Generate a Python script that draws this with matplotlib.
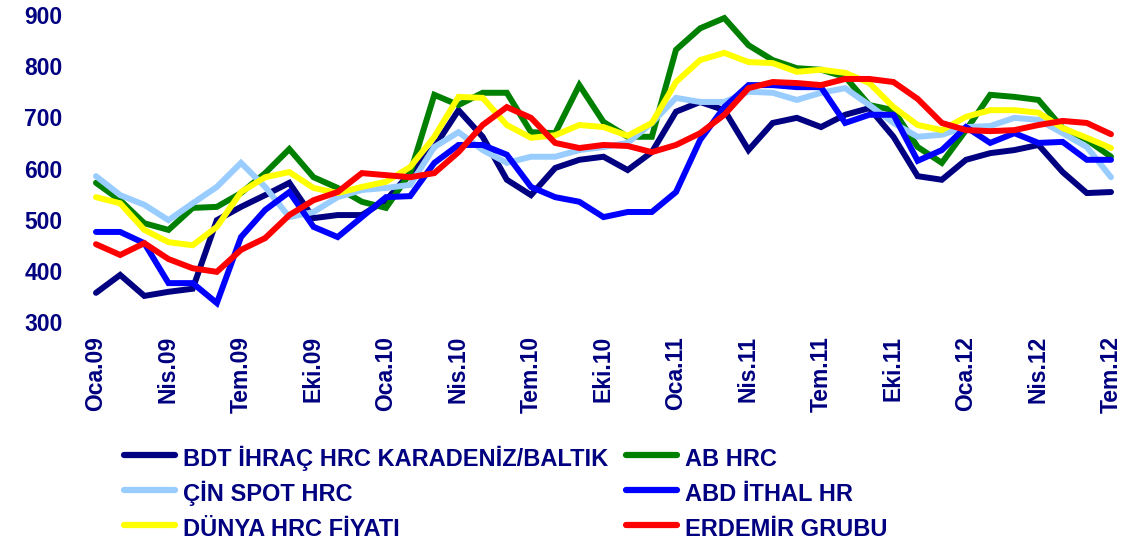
import matplotlib.pyplot as plt

plt.rcParams['font.family'] = ['Liberation Sans', 'DejaVu Sans']

months = list(range(43))
tick_pos = list(range(0, 43, 3))
tick_labels = ['Oca.09', 'Nis.09', 'Tem.09', 'Eki.09', 'Oca.10', 'Nis.10', 'Tem.10',
               'Eki.10', 'Oca.11', 'Nis.11', 'Tem.11', 'Eki.11', 'Oca.12', 'Nis.12', 'Tem.12']

bdt = [357, 392, 351, 359, 365, 499, 525, 548, 572, 503, 509, 509,
       538, 591, 642, 714, 662, 578, 548, 601, 617, 623, 597, 632,
       711, 730, 714, 636, 689, 699, 681, 705, 718, 662, 585, 578,
       617, 630, 636, 646, 593, 552, 554]
ab = [572, 538, 493, 480, 523, 525, 552, 591, 638, 583, 562, 535,
      523, 591, 744, 724, 748, 748, 671, 669, 763, 691, 662, 662,
      832, 874, 894, 841, 812, 796, 793, 779, 724, 714, 642, 611,
      675, 744, 740, 734, 679, 656, 623]
cin = [585, 548, 529, 499, 532, 564, 611, 564, 505, 515, 544, 558,
       562, 568, 642, 671, 636, 611, 623, 623, 636, 642, 650, 689,
       738, 730, 730, 750, 748, 734, 748, 757, 724, 689, 662, 666,
       681, 683, 699, 695, 669, 642, 583]
abd = [476, 476, 454, 376, 376, 337, 466, 519, 554, 486, 466, 505,
       544, 546, 611, 646, 646, 627, 564, 544, 535, 505, 515, 515,
       554, 656, 720, 763, 763, 759, 759, 689, 705, 705, 615, 636,
       681, 650, 669, 650, 652, 617, 617]
dunya = [544, 532, 480, 456, 450, 486, 554, 583, 593, 562, 552, 564,
         574, 603, 662, 740, 738, 685, 660, 665, 685, 681, 664, 689,
         769, 812, 826, 808, 806, 789, 793, 787, 767, 720, 685, 675,
         701, 714, 714, 709, 679, 660, 640]
erdemir = [452, 431, 454, 423, 405, 398, 441, 464, 509, 538, 554, 591,
           587, 583, 591, 632, 685, 720, 699, 650, 640, 646, 644, 632,
           646, 669, 705, 757, 769, 767, 763, 775, 775, 769, 736, 689,
           675, 673, 675, 685, 693, 689, 667]

navy = '#000080'

fig = plt.figure(figsize=(11.21, 5.46), dpi=100)
ax = fig.add_axes([96 / 1121, 1 - 322 / 546, 1015 / 1121, 307 / 546])

lw = 4.3
kw = dict(lw=lw, clip_on=False, solid_capstyle='round', solid_joinstyle='miter')
l1, = ax.plot(months, bdt, color='#000080', label='BDT İHRAÇ HRC KARADENİZ/BALTIK', **kw)
l2, = ax.plot(months, ab, color='#008000', label='AB HRC', **kw)
l3, = ax.plot(months, cin, color='#99CCFF', label='ÇİN SPOT HRC', **kw)
l4, = ax.plot(months, abd, color='#0000FF', label='ABD İTHAL HR', **kw)
l5, = ax.plot(months, dunya, color='#FFFF00', label='DÜNYA HRC FİYATI', **kw)
l6, = ax.plot(months, erdemir, color='#FF0000', label='ERDEMİR GRUBU', **kw)

ax.set_xlim(0, 42)
ax.set_ylim(300, 900)
ax.set_yticks(range(300, 901, 100))
ax.set_xticks(tick_pos)
ax.set_xticklabels(tick_labels, rotation=90)
for s in ax.spines.values():
    s.set_visible(False)
ax.tick_params(axis='both', length=0, labelsize=16.5, labelcolor=navy)
ax.tick_params(axis='x', pad=10)
ax.tick_params(axis='y', pad=24)
for t in ax.get_xticklabels() + ax.get_yticklabels():
    t.set_fontweight('bold')

# legend in two separate columns so each column can be placed exactly
leg_kw = dict(loc='upper left', frameon=False, borderpad=0, borderaxespad=0,
              handlelength=2.15, handletextpad=0.34, handleheight=1.5,
              labelspacing=0.26, prop={'weight': 'bold', 'size': 17})
for handles, x0 in [([l1, l3, l5], 124), ([l2, l4, l6], 626)]:
    leg = fig.legend(handles, [h.get_label() for h in handles],
                     bbox_to_anchor=(x0 / 1121, 1 - 444 / 546), **leg_kw)
    for t in leg.get_texts():
        t.set_color(navy)
    for h in leg.legend_handles:
        h.set_solid_capstyle('round')
        h.set_linewidth(4.5)

fig.savefig('out.png', dpi=100)
